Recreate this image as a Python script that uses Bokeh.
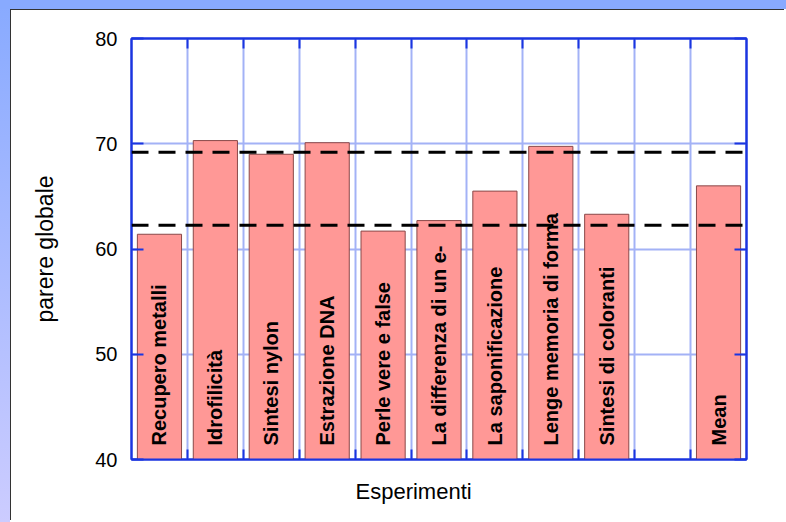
import math
from bokeh.plotting import figure
from bokeh.models import (ColumnDataSource, Range1d, LinearAxis, FixedTicker, Span, Title,
                          Grid, GlobalInlineStyleSheet)
from bokeh.embed import file_html
from bokeh.resources import INLINE
from bokeh.core.properties import value

# ---- data ----
categories = ["Recupero metalli", "Idrofilicità", "Sintesi nylon", "Estrazione DNA",
              "Perle vere e false", "La differenza di un e-", "La saponificazione",
              "Lenge memoria di forma", "Sintesi di coloranti", "", "Mean"]
scores = [61.4, 70.3, 69.0, 70.1, 61.7, 62.7, 65.5, 69.75, 63.3, None, 66.0]
reference_levels = [69.2, 62.25]
y_ticks = [40, 50, 60, 70, 80]
y_label = "parere globale"
x_label = "Esperimenti"

n = len(categories)
xs = [i + 0.5 for i, c in enumerate(categories) if c]
tops = [s for c, s in zip(categories, scores) if c]
names = [c for c in categories if c]
src = ColumnDataSource(dict(x=xs, top=tops, name=names))

FONT = "Liberation Sans"
BLUE = "#1a35e0"
GRID = "#a3b2f6"

W, H = 774, 511
p = figure(width=W, height=H, output_backend="svg", toolbar_location=None,
           x_range=Range1d(0, n), y_range=Range1d(y_ticks[0], y_ticks[-1]),
           x_axis_type=None, y_axis_type=None,
           min_border_left=120, min_border_right=39, min_border_top=28, min_border_bottom=62)
p.border_fill_color = "white"
p.background_fill_color = "white"
p.outline_line_color = BLUE
p.outline_line_width = 2

boundaries = list(range(1, n))

def make_x_axis():
    ax = LinearAxis(ticker=FixedTicker(ticks=boundaries))
    ax.major_tick_in = 10
    ax.major_tick_out = 0
    ax.minor_tick_line_color = None
    ax.major_tick_line_color = BLUE
    ax.major_tick_line_width = 2
    ax.axis_line_color = BLUE
    ax.axis_line_width = 2
    ax.major_label_text_font_size = "0px"
    ax.major_label_text_alpha = 0
    ax.major_label_standoff = 0
    return ax

def make_y_axis(labels=True):
    ax = LinearAxis(ticker=FixedTicker(ticks=y_ticks))
    ax.major_tick_in = 12
    ax.major_tick_out = 0
    ax.minor_tick_line_color = None
    ax.major_tick_line_color = BLUE
    ax.major_tick_line_width = 2
    ax.axis_line_color = BLUE
    ax.axis_line_width = 2
    if labels:
        ax.major_label_text_font = FONT
        ax.major_label_text_font_size = "20px"
        ax.major_label_text_color = "black"
        ax.major_label_standoff = 14
        ax.axis_label = y_label
        ax.axis_label_text_font = FONT
        ax.axis_label_text_font_size = "23px"
        ax.axis_label_text_font_style = "normal"
        ax.axis_label_text_color = "black"
        ax.axis_label_standoff = 34
    else:
        ax.major_label_text_font_size = "0px"
        ax.major_label_text_alpha = 0
    return ax

p.add_layout(make_x_axis(), "below")
p.add_layout(make_x_axis(), "above")
p.add_layout(make_y_axis(True), "left")
p.add_layout(make_y_axis(False), "right")

p.add_layout(Grid(dimension=0, ticker=FixedTicker(ticks=boundaries),
                  grid_line_color=GRID, grid_line_width=2))
p.add_layout(Grid(dimension=1, ticker=FixedTicker(ticks=y_ticks[1:-1]),
                  grid_line_color=GRID, grid_line_width=2))

p.vbar(x="x", top="top", bottom=y_ticks[0], width=0.79, source=src,
       fill_color="#ff9896", line_color="#8a4848", line_width=1)

p.text(x="x", y=y_ticks[0], text="name", source=src, angle=math.pi / 2,
       text_align="left", text_baseline="middle", y_offset=-14,
       text_font=value(FONT), text_font_style="bold", text_font_size="20px",
       text_color="black")

for lvl in reference_levels:
    p.add_layout(Span(location=lvl, dimension="width", line_color="black",
                      line_width=3, line_dash="17 10"))

p.add_layout(Title(text=x_label, align="left", offset=224, standoff=34,
                   text_font=FONT, text_font_size="22px", text_font_style="normal",
                   text_color="black"), "below")

css = ("html{background: linear-gradient(#88aaff,#88aaff) 0 0/100% 9px no-repeat,"
       " linear-gradient(#88aaff,#ccccff) 0 0/10px 100% no-repeat, #ffffff; min-height:100%;}")
p.stylesheets = [GlobalInlineStyleSheet(css=css)]
p.styles = {"margin-left": "11px", "margin-top": "10px", "box-shadow": "-1px -1px 0 0 #333"}

open("out.html", "w").write(file_html(p, INLINE))
